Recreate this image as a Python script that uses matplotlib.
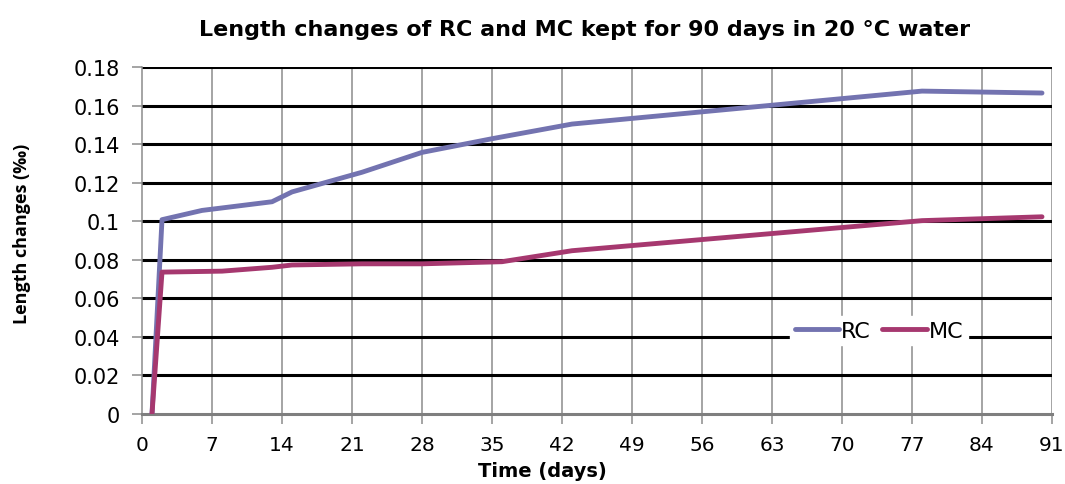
import matplotlib
matplotlib.use("Agg")
import matplotlib.pyplot as plt

rc_days = [1, 2, 6, 13, 15, 22, 28, 35, 43, 78, 90]
rc_vals = [0.0, 0.1008, 0.1056, 0.1101, 0.1152, 0.1254, 0.1357, 0.1428, 0.1504, 0.1675, 0.1665]
mc_days = [1, 2, 8, 13, 15, 22, 28, 36, 43, 78, 90]
mc_vals = [0.0, 0.0736, 0.0741, 0.0761, 0.0773, 0.0779, 0.0779, 0.0790, 0.0847, 0.1003, 0.1023]
x_ticks = list(range(0, 92, 7))
y_ticks = [0, 0.02, 0.04, 0.06, 0.08, 0.1, 0.12, 0.14, 0.16, 0.18]
y_labels = ["0", "0.02", "0.04", "0.06", "0.08", "0.1", "0.12", "0.14", "0.16", "0.18"]

fig = plt.figure(figsize=(10.65, 4.85), dpi=100)
ax = fig.add_axes([142/1065, 1-415/485, 910/1065, 347/485])

for xt in x_ticks[1:]:
    ax.axvline(xt, color="#8c8c8c", lw=1.1, zorder=1)
for yt in y_ticks[1:]:
    ax.axhline(yt, color="black", lw=2.2, zorder=1)

ax.plot(rc_days, rc_vals, color="#7373B0", lw=3.5, label="RC", zorder=3, solid_capstyle="round")
ax.plot(mc_days, mc_vals, color="#A6386F", lw=3.5, label="MC", zorder=3, solid_capstyle="round")

ax.set_xlim(0, 91)
ax.set_ylim(0, 0.18)
ax.set_xticks(x_ticks)
ax.set_xticklabels([str(t) for t in x_ticks], family="DejaVu Sans", fontsize=14.5)
ax.set_yticks(y_ticks)
ax.set_yticklabels(y_labels, family="DejaVu Sans", fontsize=15)
ax.tick_params(axis="both", colors="#8c8c8c", labelcolor="black", length=7, width=1.1)
ax.tick_params(axis="x", pad=8)
ax.tick_params(axis="y", pad=9)

ax.spines["top"].set_visible(False)
ax.spines["right"].set_visible(False)
ax.spines["left"].set_color("#8c8c8c")
ax.spines["left"].set_linewidth(1.1)
ax.spines["bottom"].set_color("#7f7f7f")
ax.spines["bottom"].set_linewidth(2.2)

fig.text(542/1065, 1-472/485, "Time (days)", fontsize=14, fontweight="bold",
         family="DejaVu Sans", ha="center", va="center")
fig.text(22/1065, 1-234/485, "Length changes (‰)", fontsize=13, fontweight="bold",
         family=["Open Sans", "DejaVu Sans"], ha="center", va="center", rotation=90)
fig.text(585/1065, 1-30/485, "Length changes of RC and MC kept for 90 days in 20 °C water",
         fontsize=16, fontweight="bold", family="DejaVu Sans", ha="center", va="center")

leg = ax.legend(loc="center left", bbox_to_anchor=(0.70, 0.24), ncol=2, frameon=True,
                fancybox=False, edgecolor="white", framealpha=1.0,
                prop={"family": "DejaVu Sans", "size": 16}, handlelength=2.0,
                handletextpad=0.1, columnspacing=0.5, borderpad=0.2)
leg.set_zorder(5)

fig.savefig("out.png", dpi=100, facecolor="white")
